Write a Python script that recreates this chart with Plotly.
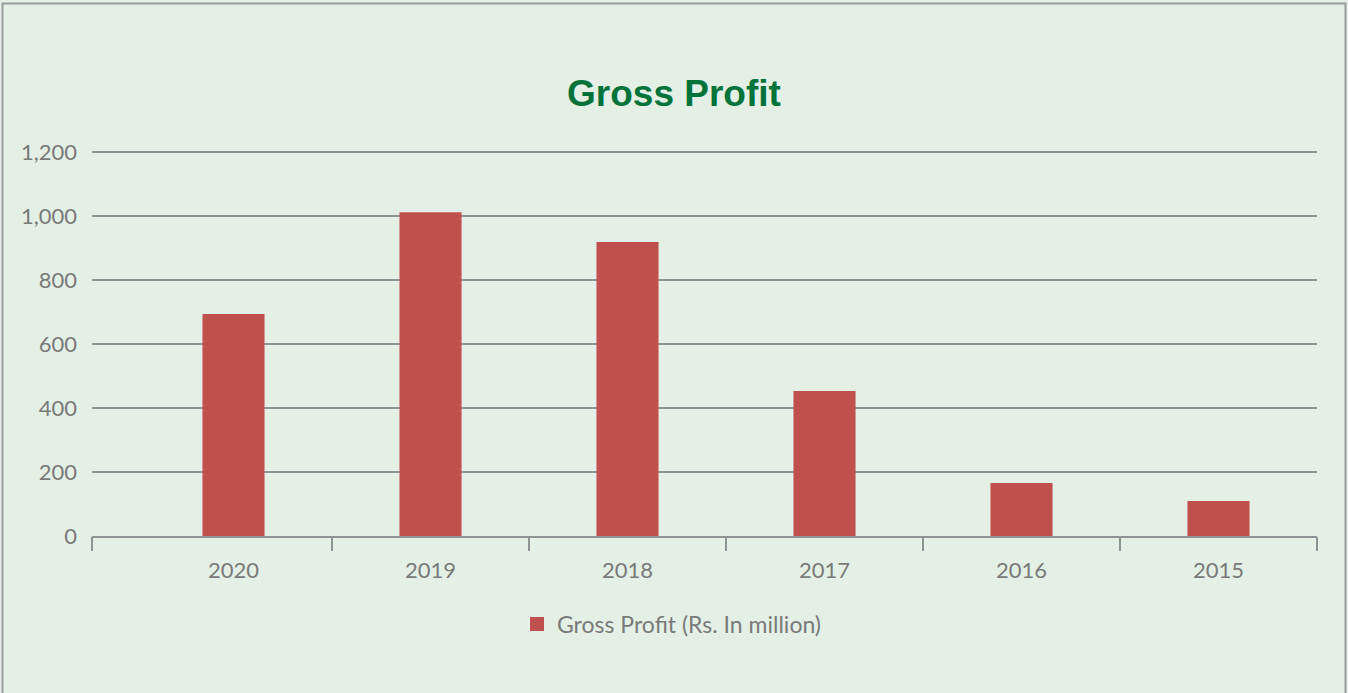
import plotly.graph_objects as go

years = ['2020', '2019', '2018', '2017', '2016', '2015']
gross_profit = [694, 1012, 919, 453, 166, 109]
series_name = 'Gross Profit (Rs. In million)'
y_ticks = [0, 200, 400, 600, 800, 1000, 1200]

W, H = 1348, 693
ml, mr, mt, mb = 92, 31, 148, 157
pw, ph = W - ml - mr, H - mt - mb
y_top = ph / 0.32          # 200 units = 64 px
cat_px = 197               # width of one category band
x_lo = 5.5 - pw / cat_px   # the axis runs on a little past the first band, as in Excel

bg = '#E4EFE6'
grey_txt = '#7A7A7A'
grid_col = '#8F9395'
bar_col = '#C0504D'

pos = list(range(len(years)))
bounds = [x_lo] + [p + 0.5 for p in pos]

fig = go.Figure()
fig.add_trace(go.Bar(x=pos, y=gross_profit, name=series_name, width=0.315,
                     marker=dict(color=bar_col, line=dict(width=0)),
                     showlegend=False))
# legend entry with a bigger square swatch, like the original
fig.add_trace(go.Scatter(x=[None], y=[None], mode='markers', name=series_name,
                         marker=dict(symbol='square', size=14, color=bar_col)))
# invisible trace so the tick-mark axis gets drawn
fig.add_trace(go.Scatter(x=[None], y=[None], xaxis='x2', showlegend=False, hoverinfo='skip'))

fig.update_layout(
    width=W, height=H,
    margin=dict(l=ml, r=mr, t=mt, b=mb, pad=0),
    paper_bgcolor=bg, plot_bgcolor=bg,
    hovermode=False,
    font=dict(family='Lato, Open Sans, sans-serif', size=22, color=grey_txt),
    title=dict(text='<b>Gross Profit</b>', x=0.5, xanchor='center',
               y=1 - 93 / H, yanchor='middle',
               font=dict(family='Liberation Sans, Arial, sans-serif', size=37, color='#00733A')),
    legend=dict(orientation='h', x=(672 - ml) / pw, xanchor='center', y=(536 - 624) / ph, yanchor='middle',
                font=dict(size=23, color=grey_txt), bgcolor='rgba(0,0,0,0)',
                itemwidth=30),
    xaxis=dict(range=[x_lo, 5.5], tickvals=pos, ticktext=years, ticks='',
               showgrid=False, zeroline=False, showline=True, linecolor=grid_col, linewidth=2,
               ticklabelstandoff=14, tickfont=dict(size=22, color=grey_txt), fixedrange=True),
    xaxis2=dict(range=[x_lo, 5.5], overlaying='x', side='bottom', tickvals=bounds,
                showticklabels=False, ticks='outside', ticklen=14, tickwidth=2,
                tickcolor=grid_col, showgrid=False, zeroline=False, showline=False,
                fixedrange=True),
    yaxis=dict(range=[0, y_top], tickvals=y_ticks, tickformat=',',
               showgrid=True, gridcolor=grid_col, gridwidth=2,
               zeroline=False, showline=False, ticks='', ticklabelstandoff=14,
               tickfont=dict(size=22, color=grey_txt), fixedrange=True),
    shapes=[dict(type='rect', xref='paper', yref='paper',
                 x0=(2.5 - ml) / pw, x1=(1345.5 - ml) / pw,
                 y0=(536 - 720) / ph, y1=(536 - 3.5) / ph,
                 line=dict(color='#9A9C9E', width=2), fillcolor='rgba(0,0,0,0)',
                 layer='above')],
)

fig.write_html("out.html", config={'displayModeBar': False, 'staticPlot': True},
               post_script="document.body.style.margin='0';document.body.style.background='%s';" % bg)
